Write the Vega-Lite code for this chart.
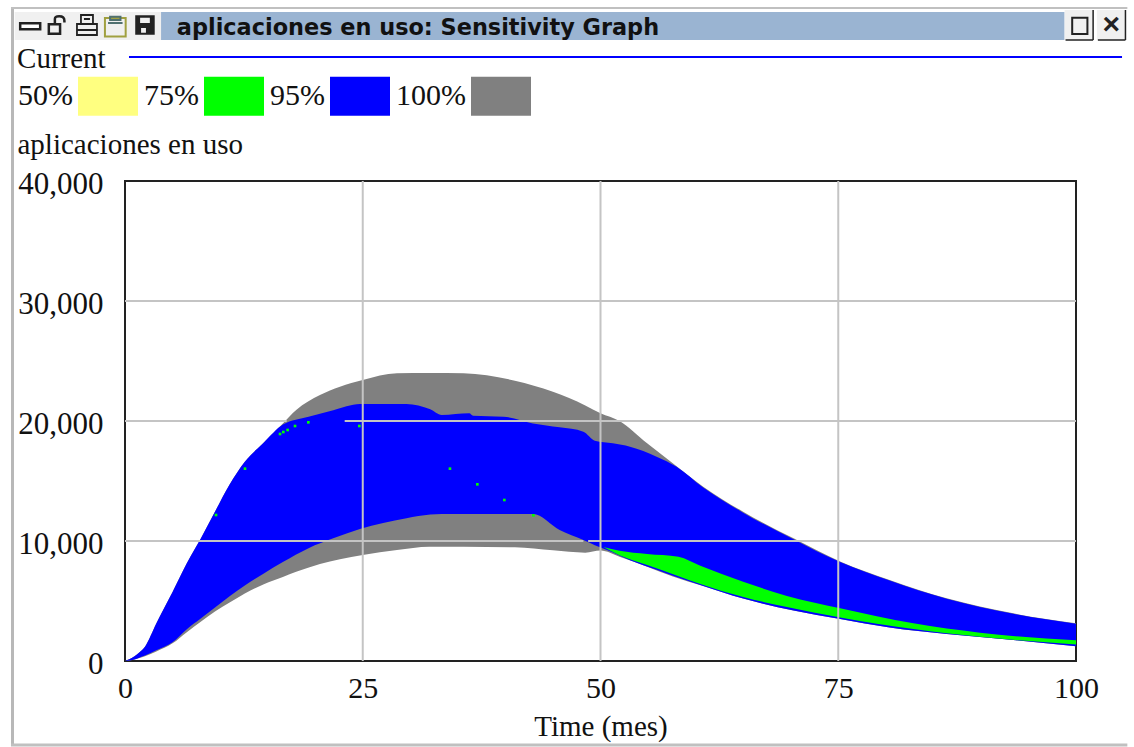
{"$schema":"https://vega.github.io/schema/vega-lite/v6.json","width":951,"height":480,"autosize":"none","padding":{"left":125,"top":181,"right":58,"bottom":86},"background":"white","view":{"stroke":"#222222","strokeWidth":2,"fill":"white"},
"data":{"values":[{}]},
"datasets":{"bands":[
{"s":"100%","t":0,"lo":0,"hi":0},{"s":"100%","t":1,"lo":120,"hi":400},{"s":"100%","t":1.5,"lo":240,"hi":700},{"s":"100%","t":2.1,"lo":400,"hi":1190},{"s":"100%","t":3.3,"lo":800,"hi":3140},{"s":"100%","t":5,"lo":1470,"hi":5750},{"s":"100%","t":6.5,"lo":2400,"hi":8140},{"s":"100%","t":8,"lo":3300,"hi":10250},{"s":"100%","t":9.5,"lo":4150,"hi":12500},{"s":"100%","t":11,"lo":4870,"hi":14700},{"s":"100%","t":12.6,"lo":5620,"hi":16600},{"s":"100%","t":14.6,"lo":6400,"hi":18200},{"s":"100%","t":16.6,"lo":7000,"hi":19800},{"s":"100%","t":18,"lo":7430,"hi":20920},{"s":"100%","t":20.5,"lo":8080,"hi":22170},{"s":"100%","t":22.6,"lo":8480,"hi":22860},{"s":"100%","t":25,"lo":8830,"hi":23420},{"s":"100%","t":28.6,"lo":9250,"hi":23970},{"s":"100%","t":32,"lo":9530,"hi":24000},{"s":"100%","t":35.6,"lo":9530,"hi":23970},{"s":"100%","t":41,"lo":9470,"hi":23360},{"s":"100%","t":45,"lo":9220,"hi":22440},{"s":"100%","t":48.4,"lo":9025,"hi":21300},{"s":"100%","t":50,"lo":9200,"hi":20640},{"s":"100%","t":52,"lo":8690,"hi":20000},{"s":"100%","t":54.9,"lo":7860,"hi":18140},{"s":"100%","t":57.6,"lo":7050,"hi":16480},{"s":"100%","t":60.8,"lo":6250,"hi":14530},{"s":"100%","t":65,"lo":5200,"hi":12440},{"s":"100%","t":70.3,"lo":4200,"hi":10220},{"s":"100%","t":75.2,"lo":3500,"hi":8300},{"s":"100%","t":80.4,"lo":2800,"hi":6750},{"s":"100%","t":86.4,"lo":2250,"hi":5220},{"s":"100%","t":93.4,"lo":1750,"hi":3970},{"s":"100%","t":100,"lo":1230,"hi":3150},
{"s":"95%","t":0,"lo":0,"hi":0},{"s":"95%","t":1,"lo":130,"hi":400},{"s":"95%","t":1.5,"lo":270,"hi":700},{"s":"95%","t":2.1,"lo":450,"hi":1190},{"s":"95%","t":3.3,"lo":900,"hi":3140},{"s":"95%","t":5,"lo":1560,"hi":5750},{"s":"95%","t":6.5,"lo":2650,"hi":8140},{"s":"95%","t":8,"lo":3560,"hi":10250},{"s":"95%","t":9.5,"lo":4480,"hi":12500},{"s":"95%","t":11,"lo":5400,"hi":14700},{"s":"95%","t":12.6,"lo":6300,"hi":16600},{"s":"95%","t":14.6,"lo":7300,"hi":18200},{"s":"95%","t":16.6,"lo":8250,"hi":19700},{"s":"95%","t":19.3,"lo":9400,"hi":20360},{"s":"95%","t":21.9,"lo":10220,"hi":20900},{"s":"95%","t":24.7,"lo":11000,"hi":21420},{"s":"95%","t":29.6,"lo":11900,"hi":21420},{"s":"95%","t":32.1,"lo":12200,"hi":20970},{"s":"95%","t":33.3,"lo":12250,"hi":20500},{"s":"95%","t":36.2,"lo":12250,"hi":20640},{"s":"95%","t":36.6,"lo":12250,"hi":20440},{"s":"95%","t":39.8,"lo":12250,"hi":20360},{"s":"95%","t":42.9,"lo":12250,"hi":19800},{"s":"95%","t":45.7,"lo":10920,"hi":19470},{"s":"95%","t":48.2,"lo":10080,"hi":19110},{"s":"95%","t":49.4,"lo":9650,"hi":18360},{"s":"95%","t":51.3,"lo":9050,"hi":18140},{"s":"95%","t":53.1,"lo":8400,"hi":17860},{"s":"95%","t":55.9,"lo":7600,"hi":17030},{"s":"95%","t":58,"lo":7000,"hi":16190},{"s":"95%","t":60.8,"lo":6250,"hi":14450},{"s":"95%","t":65,"lo":5200,"hi":12360},{"s":"95%","t":70.3,"lo":4200,"hi":10150},{"s":"95%","t":75.2,"lo":3500,"hi":8240},{"s":"95%","t":80.4,"lo":2800,"hi":6700},{"s":"95%","t":86.4,"lo":2250,"hi":5180},{"s":"95%","t":93.4,"lo":1750,"hi":3930},{"s":"95%","t":100,"lo":1230,"hi":3100},
{"s":"75%","t":50.3,"lo":9500,"hi":9500},{"s":"75%","t":52,"lo":8820,"hi":9190},{"s":"75%","t":54.9,"lo":7990,"hi":8917},{"s":"75%","t":58.2,"lo":7060,"hi":8692},{"s":"75%","t":60.5,"lo":6420,"hi":7942},{"s":"75%","t":65,"lo":5330,"hi":6608},{"s":"75%","t":69.6,"lo":4500,"hi":5420},{"s":"75%","t":75.2,"lo":3630,"hi":4390},{"s":"75%","t":82.9,"lo":2660,"hi":3140},{"s":"75%","t":89.9,"lo":2020,"hi":2360},{"s":"75%","t":100,"lo":1380,"hi":1720}],
"specks":[{"t":9.57,"v":12167},{"t":12.62,"v":16028},{"t":16.3,"v":18917},{"t":16.65,"v":19083},{"t":17.1,"v":19250},{"t":17.88,"v":19583},{"t":19.28,"v":19889},{"t":24.64,"v":19583},{"t":34.17,"v":16028},{"t":37.05,"v":14722},{"t":39.89,"v":13417},{"t":42.94,"v":12139}],
"vgrid":[{"t":25},{"t":50},{"t":75}],
"hgrid":[{"v":10000,"a":0,"b":48.2},{"v":10000,"a":48.7,"b":100},{"v":20000,"a":0,"b":17},{"v":20000,"a":23.1,"b":100},{"v":30000,"a":0,"b":100}]},
"layer":[
{"data":{"name":"bands"},"mark":{"type":"area","interpolate":"monotone","clip":false},
"encoding":{"x":{"field":"t","type":"quantitative","scale":{"domain":[0,100],"nice":false},"axis":{"values":[0,25,50,75,100],"grid":false,"ticks":false,"domain":false,"labelFont":"Liberation Serif","labelFontSize":30,"labelColor":"#111111","labelPadding":12,"title":"Time (mes)","titleFont":"Liberation Serif","titleFontSize":29,"titleFontWeight":"normal","titleColor":"#111111","titlePadding":9,"labelFlush":false,"labelOverlap":false}},
"y":{"field":"lo","type":"quantitative","scale":{"domain":[0,40000],"nice":false},"axis":{"values":[0,10000,20000,30000,40000],"labelExpr":"format(datum.value, ',')","grid":false,"ticks":false,"domain":false,"labelFont":"Liberation Serif","labelFontSize":31,"labelColor":"#111111","labelPadding":22,"labelOffset":3,"title":"aplicaciones en uso","titleFont":"Liberation Serif","titleFontSize":29,"titleFontWeight":"normal","titleColor":"#111111","titleAngle":0,"titleAlign":"left","titleBaseline":"alphabetic","titleX":-108,"titleY":-28}},
"y2":{"field":"hi"},
"color":{"field":"s","type":"nominal","scale":{"domain":["50%","75%","95%","100%"],"range":["#ffff80","#00ff00","#0000ff","#808080"]},
"legend":{"title":null,"orient":"none","legendX":-47,"legendY":-115,"direction":"horizontal","columns":4,"symbolType":"M-1,-0.65H1V0.65H-1Z","symbolSize":3600,"symbolStrokeWidth":0,"symbolOpacity":1,"labelFont":"Liberation Serif","labelFontSize":30,"labelColor":"#111111","labelAlign":"right","labelOffset":-65,"columnPadding":6,"gridAlign":"each","padding":0}}}},
{"data":{"name":"specks"},"mark":{"type":"square","size":7,"color":"#00ff00","opacity":1},"encoding":{"x":{"field":"t","type":"quantitative"},"y":{"field":"v","type":"quantitative"}}},
{"data":{"name":"vgrid"},"mark":{"type":"rule","color":"#c4c4c4","strokeWidth":2},"encoding":{"x":{"field":"t","type":"quantitative"}}},
{"data":{"name":"hgrid"},"mark":{"type":"rule","color":"#c4c4c4","strokeWidth":2},"encoding":{"y":{"field":"v","type":"quantitative"},"x":{"field":"a","type":"quantitative"},"x2":{"field":"b"}}},
{"mark":{"type":"rect","fill":"#9ab4d2","clip":false},"encoding":{"x":{"datum":3.79},"x2":{"datum":98.8},"y":{"datum":54083},"y2":{"datum":51750}}},
{"mark":{"type":"rect","fill":"#f0f0f0","clip":false},"encoding":{"x":{"datum":-11.6},"x2":{"datum":3.79},"y":{"datum":54083},"y2":{"datum":51750}}},
{"mark":{"type":"rect","fill":"#f0f0f0","clip":false},"encoding":{"x":{"datum":98.8},"x2":{"datum":101.85},"y":{"datum":54250},"y2":{"datum":51750}}},
{"mark":{"type":"rect","fill":"#f0f0f0","clip":false},"encoding":{"x":{"datum":102.2},"x2":{"datum":105.2},"y":{"datum":54250},"y2":{"datum":51750}}},
{"mark":{"type":"rule","color":"#222222","strokeWidth":1.5,"clip":false},"encoding":{"x":{"datum":98.9},"x2":{"datum":101.8},"y":{"datum":51750}}},
{"mark":{"type":"rule","color":"#222222","strokeWidth":1.5,"clip":false},"encoding":{"x":{"datum":101.8},"y":{"datum":54250},"y2":{"datum":51750}}},
{"mark":{"type":"rule","color":"#222222","strokeWidth":1.5,"clip":false},"encoding":{"x":{"datum":102.3},"x2":{"datum":105.2},"y":{"datum":51750}}},
{"mark":{"type":"rule","color":"#222222","strokeWidth":1.5,"clip":false},"encoding":{"x":{"datum":105.2},"y":{"datum":54250},"y2":{"datum":51750}}},
{"mark":{"type":"rect","fill":"#f0f0f0","stroke":"#222222","strokeWidth":2,"clip":false},"encoding":{"x":{"datum":99.6},"x2":{"datum":101.2},"y":{"datum":53600},"y2":{"datum":52250}}},
{"mark":{"type":"text","text":"×","font":"Liberation Sans","fontWeight":"bold","fontSize":30,"color":"#222222","clip":false,"align":"center","baseline":"middle"},"encoding":{"x":{"datum":103.7},"y":{"datum":53000}}},
{"mark":{"type":"text","text":"aplicaciones en uso: Sensitivity Graph","font":"DejaVu Sans","fontWeight":"bold","fontSize":22.4,"color":"#111111","clip":false,"align":"left","baseline":"alphabetic"},"encoding":{"x":{"datum":5.45},"y":{"datum":52150}}},
{"mark":{"type":"text","text":"Current","font":"Liberation Serif","fontSize":29,"color":"#111111","clip":false,"align":"left","baseline":"alphabetic"},"encoding":{"x":{"datum":-11.35},"y":{"datum":49420}}},
{"mark":{"type":"rule","color":"#0000ff","strokeWidth":2,"clip":false},"encoding":{"x":{"datum":0.42},"x2":{"datum":104.84},"y":{"datum":50333}}},
{"mark":{"type":"rule","color":"#b8b8b8","strokeWidth":3,"clip":false},"encoding":{"x":{"datum":-11.83},"y":{"datum":54417},"y2":{"datum":-7000}}},
{"mark":{"type":"rule","color":"#c0c0c0","strokeWidth":2,"clip":false},"encoding":{"x":{"datum":-11.99},"x2":{"datum":105.4},"y":{"datum":54417}}},
{"mark":{"type":"rule","color":"#c0c0c0","strokeWidth":3,"clip":false},"encoding":{"x":{"datum":-11.99},"x2":{"datum":105.4},"y":{"datum":-7000}}},
{"mark":{"type":"point","shape":"M-1,-0.3H1V0.3H-1Z","size":400,"filled":true,"fill":"#ffffff","stroke":"#222222","strokeWidth":2.5,"opacity":1,"clip":false},"encoding":{"x":{"datum":-9.97},"y":{"datum":52900}}},
{"mark":{"type":"point","shape":"M-1,-0.1H0.3V1H-1ZM-0.3,-0.1V-0.7Q-0.3,-1 0.2,-1Q0.8,-1 0.8,-0.5V-0.3","size":300,"filled":false,"stroke":"#222222","strokeWidth":2.5,"opacity":1,"clip":false},"encoding":{"x":{"datum":-7.1},"y":{"datum":53000}}},
{"mark":{"type":"point","shape":"M-0.6,-0.1V-1H0.6V-0.1M-1,-0.1H1V1H-1ZM-0.3,-0.6H0.3M-1,0.5H1","size":400,"filled":false,"stroke":"#222222","strokeWidth":1.8,"opacity":1,"clip":false},"encoding":{"x":{"datum":-4},"y":{"datum":53000}}},
{"mark":{"type":"point","shape":"M-1,-0.8H1V1H-1Z","size":430,"filled":false,"stroke":"#a0a040","strokeWidth":2,"opacity":1,"clip":false},"encoding":{"x":{"datum":-1.02},"y":{"datum":52900}}},
{"mark":{"type":"point","shape":"M-0.5,-0.6V-0.9H0.5V-0.6ZM-0.7,-0.3H0.7","size":430,"filled":false,"stroke":"#507070","strokeWidth":2,"opacity":1,"clip":false},"encoding":{"x":{"datum":-1.02},"y":{"datum":52900}}},
{"mark":{"type":"point","shape":"M-1,-1H1V1H-1ZM-0.5,-0.75V-0.2H0.5V-0.75ZM-0.4,0.3V0.8H0.1V0.3Z","size":380,"filled":true,"fill":"#222222","opacity":1,"clip":false,"strokeWidth":0},"encoding":{"x":{"datum":2.1},"y":{"datum":53000}}}
],
"resolve":{"scale":{"x":"shared","y":"shared"}}}
